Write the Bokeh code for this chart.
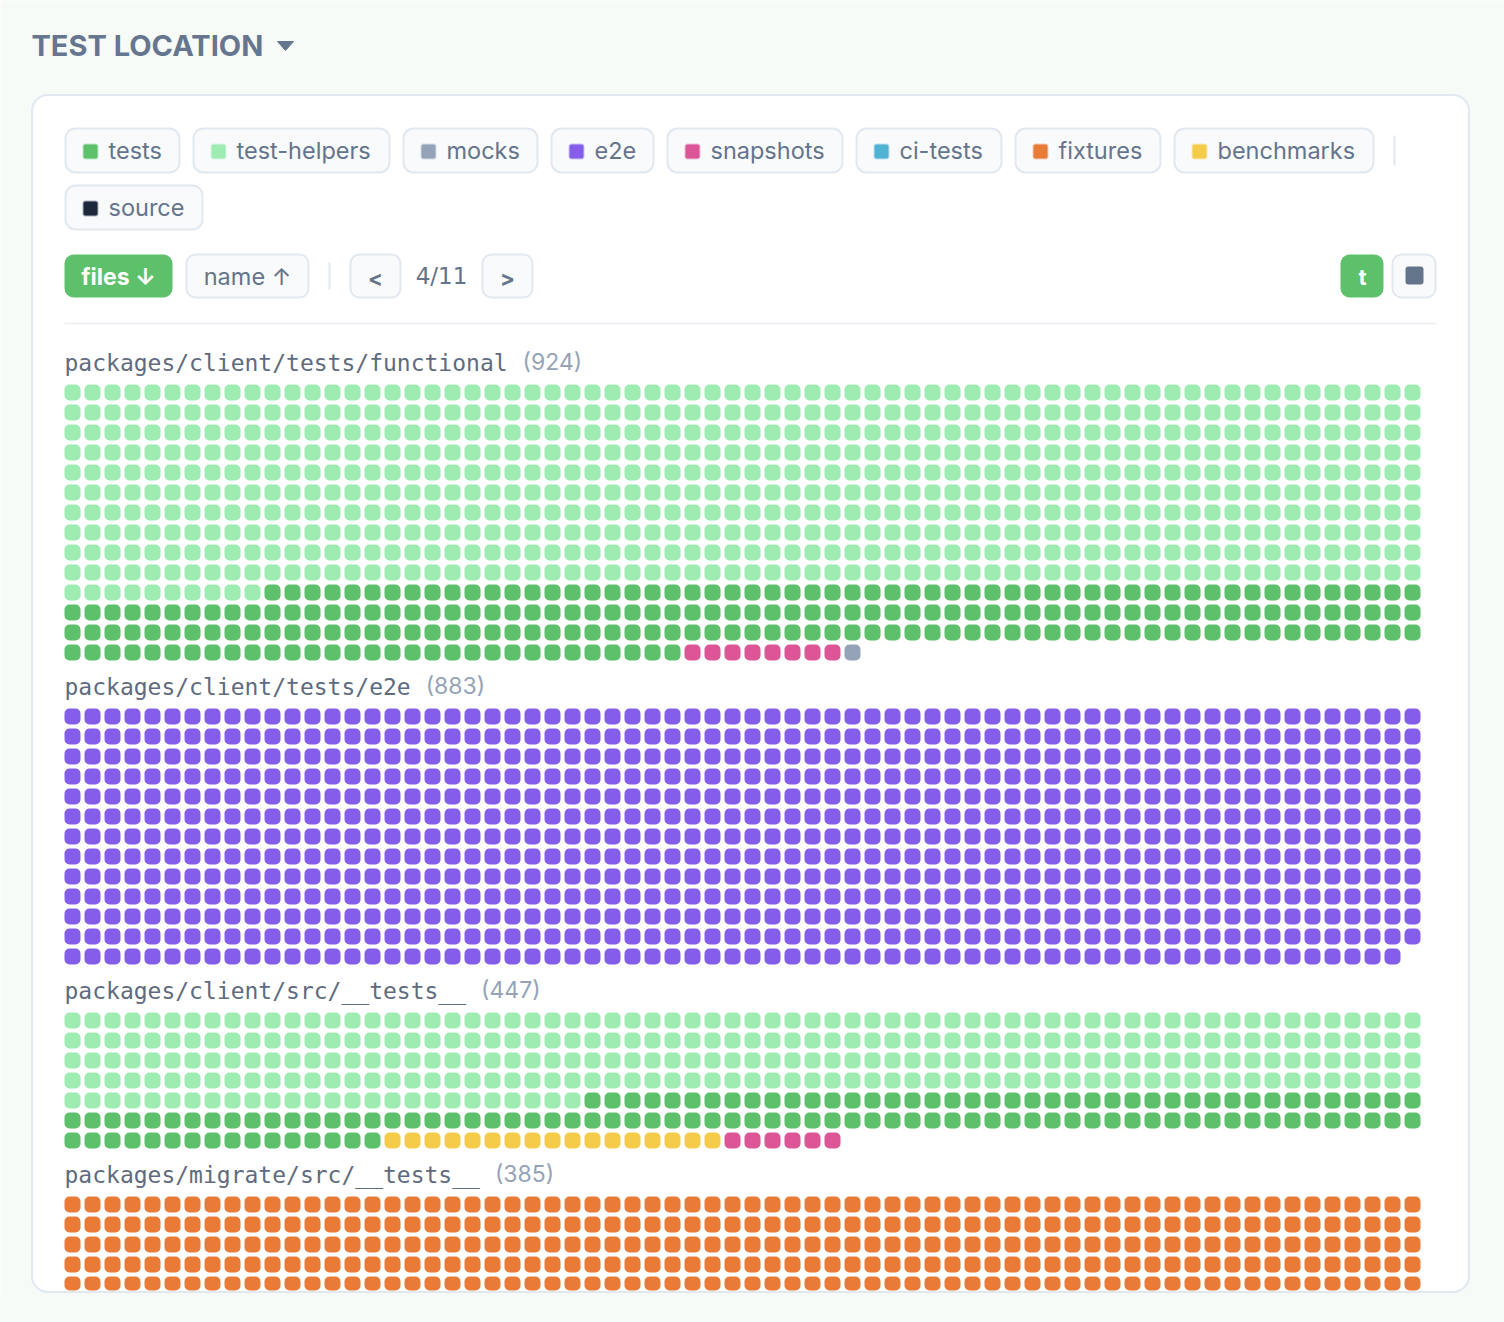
from bokeh.plotting import figure
from bokeh.embed import file_html
from bokeh.resources import INLINE
from bokeh.core.properties import value
from bokeh.models import ColumnDataSource

# ---------------- data ----------------
categories = ["tests", "test-helpers", "mocks", "e2e", "snapshots",
              "ci-tests", "fixtures", "benchmarks", "source"]
cat_colors = ["#5DC06B", "#9FECB3", "#94A3B8", "#845EEB", "#DB5597",
              "#4FB3D3", "#E97B37", "#F4CC4A", "#1E293B"]

group_names = ["packages/client/tests/functional",
               "packages/client/tests/e2e",
               "packages/client/src/__tests__",
               "packages/migrate/src/__tests__"]
group_totals = [924, 883, 447, 385]

g1_cats = ["test-helpers", "tests", "snapshots", "mocks"]
g1_counts = [690, 225, 8, 1]
g2_cats = ["e2e"]
g2_counts = [883]
g3_cats = ["test-helpers", "tests", "benchmarks", "snapshots"]
g3_counts = [298, 126, 17, 6]
g4_cats = ["fixtures"]
g4_counts = [385]
group_cats = [g1_cats, g2_cats, g3_cats, g4_cats]
group_counts = [g1_counts, g2_counts, g3_counts, g4_counts]

sort_buttons = ["files ↓", "name ↑"]
page_label = "4/11"

# ---------------- style / layout ----------------
W, H = 1504, 1322
BG = "#F6FBF8"
TXT = "#64748B"
CHIP_FILL = "#F8FAFC"
CHIP_LINE = "#E2E8F0"
SANS = value("Inter")
MONO = value("DejaVu Sans Mono")

COLS = 68
STEP = 20
CELL = 16
GRID_X0 = 64
CARD_BOTTOM = 1291

chip_spans = [(65, 179), (193, 389), (403, 537), (551, 653), (667, 842),
              (856, 1001), (1015, 1160), (1174, 1373), (65, 202)]
chip_rows = [128, 128, 128, 128, 128, 128, 128, 128, 185]
CHIP_H = 44

color_of = dict(zip(categories, cat_colors))

p = figure(width=W, height=H, x_range=(0, W), y_range=(H, 0),
           output_backend="svg", toolbar_location=None, min_border=0)
p.axis.visible = False
p.grid.visible = False
p.outline_line_color = None
p.background_fill_color = BG
p.border_fill_color = BG

# header
p.text(x=[31], y=[45], text=["TEST LOCATION"], text_font=SANS,
       text_font_size="29px", text_font_style="bold", text_color="#66768F",
       text_baseline="middle", text_align="left")
p.patch([277, 293, 285], [41, 41, 50], fill_color="#66768F", line_color="#66768F")

# card
p.quad(left=[31.5], right=[1468.5], top=[94.5], bottom=[1291.5],
       fill_color="white", line_color=None, border_radius=16)

# legend chips
cl, cr, ct, cb = [], [], [], []
sl, sr, st, sb, sc = [], [], [], [], []
tx, ty = [], []
for (a, b), y0, cat in zip(chip_spans, chip_rows, categories):
    cl.append(a); cr.append(b); ct.append(y0); cb.append(y0 + CHIP_H)
    sl.append(a + 18); sr.append(a + 32); st.append(y0 + 16); sb.append(y0 + 30)
    sc.append(color_of[cat])
    tx.append(a + 43); ty.append(y0 + CHIP_H / 2)
p.quad(left=cl, right=cr, top=ct, bottom=cb, fill_color=CHIP_FILL,
       line_color=CHIP_LINE, line_width=2, border_radius=10)
p.quad(left=sl, right=sr, top=st, bottom=sb, fill_color=sc, line_color=sc,
       line_alpha=0.35, line_width=2, border_radius=2)
p.text(x=tx, y=ty, text=categories, text_font=SANS, text_font_size="23.5px",
       text_color=TXT, text_baseline="middle", text_align="left")
p.segment(x0=[1394, 329], y0=[135, 262], x1=[1394, 329], y1=[165, 289],
          line_color=CHIP_LINE, line_width=2)

# controls row
p.quad(left=[64], right=[172], top=[254], bottom=[297], fill_color="#5DC06B",
       line_color=None, border_radius=9)
p.quad(left=[186, 350, 482, 1392], right=[308, 400, 532, 1435],
       top=[254, 254, 254, 254], bottom=[297, 297, 297, 297],
       fill_color=CHIP_FILL, line_color=CHIP_LINE, line_width=2, border_radius=9)
p.quad(left=[1340], right=[1383], top=[254], bottom=[297], fill_color="#5DC06B",
       line_color=None, border_radius=9)
p.quad(left=[1405], right=[1423], top=[266], bottom=[284], fill_color="#64748B",
       line_color=None, border_radius=3)
p.text(x=[118], y=[276], text=[sort_buttons[0]], text_font=SANS,
       text_font_size="23px", text_font_style="bold", text_color="white",
       text_baseline="middle", text_align="center")
p.text(x=[247], y=[276], text=[sort_buttons[1]], text_font=SANS,
       text_font_size="23.5px", text_color=TXT, text_baseline="middle",
       text_align="center")
p.text(x=[375, 507], y=[277, 277], text=["<", ">"], text_font=SANS,
       text_font_size="22px", text_font_style="bold", text_color=TXT,
       text_baseline="middle", text_align="center")
p.text(x=[441], y=[275], text=[page_label], text_font=value("DejaVu Sans"),
       text_font_size="23px", text_color=TXT, text_baseline="middle",
       text_align="center")
p.text(x=[1362], y=[276], text=["t"], text_font=SANS, text_font_size="22px",
       text_font_style="bold", text_color="white", text_baseline="middle",
       text_align="center")
p.segment(x0=[64], y0=[323], x1=[1436], y1=[323], line_color="#EDF1F5",
          line_width=2)

# waffle groups
MONO_ADV = 23 * 0.602
lefts, rights, tops, bottoms, colors = [], [], [], [], []
lab_x, lab_y, lab_t = [], [], []
cnt_x, cnt_y, cnt_t = [], [], []
y_start = 384
for name, total, cats, counts in zip(group_names, group_totals, group_cats, group_counts):
    lab_x.append(GRID_X0); lab_y.append(y_start - 22); lab_t.append(name)
    cnt_x.append(GRID_X0 + len(name) * MONO_ADV + 15); cnt_y.append(y_start - 23)
    cnt_t.append("(%d)" % total)
    i = 0
    for cat, n in zip(cats, counts):
        for _ in range(n):
            r, c = divmod(i, COLS)
            x0 = GRID_X0 + c * STEP
            y0 = y_start + r * STEP
            if y0 < CARD_BOTTOM:
                lefts.append(x0); rights.append(x0 + CELL)
                tops.append(y0); bottoms.append(min(y0 + CELL, CARD_BOTTOM - 1))
                colors.append(color_of[cat])
            i += 1
    nrows = (total + COLS - 1) // COLS
    y_start = y_start + (nrows - 1) * STEP + CELL + 48

src = ColumnDataSource(dict(left=lefts, right=rights, top=tops, bottom=bottoms,
                            color=colors))
p.quad(left="left", right="right", top="top", bottom="bottom", source=src,
       fill_color="color", line_color=None, border_radius=5)

p.text(x=lab_x, y=lab_y, text=lab_t, text_font=MONO, text_font_size="23px",
       text_color="#5F6B7E", text_baseline="middle", text_align="left")
p.text(x=cnt_x, y=cnt_y, text=cnt_t, text_font=SANS, text_font_size="23px",
       text_color="#94A3B8", text_baseline="middle", text_align="left")

# cover below card and outline
p.quad(left=[0], right=[W], top=[CARD_BOTTOM - 0.5], bottom=[H], fill_color=BG,
       line_color=None)
p.quad(left=[31.5], right=[1468.5], top=[94.5], bottom=[1291.5],
       fill_color=None, line_color="#E2E8F0", line_width=2, border_radius=16)

open("out.html", "w").write(file_html(p, INLINE))
